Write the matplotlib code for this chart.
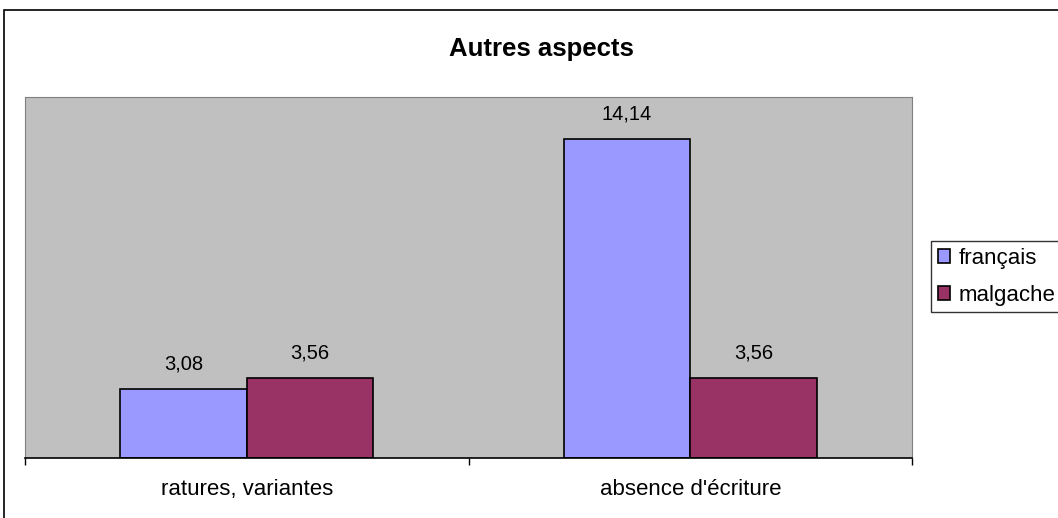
import matplotlib
matplotlib.use("Agg")
import matplotlib.pyplot as plt
import numpy as np
from matplotlib.patches import Rectangle

plt.rcParams['font.family'] = ['Liberation Sans', 'DejaVu Sans']

# data
categories = ["ratures, variantes", "absence d'écriture"]
francais = [3.08, 14.14]
malgache = [3.56, 3.56]
series_names = ["français", "malgache"]
value_labels_fr = ["3,08", "14,14"]
value_labels_mg = ["3,56", "3,56"]

W, H = 1058, 518
fig = plt.figure(figsize=(W / 100, H / 100), dpi=100)

# outer chart border
fig.patches.append(Rectangle((4 / W, -0.1), 1.2, 1 - 10 / H + 0.1,
                             transform=fig.transFigure, fill=False,
                             edgecolor='black', linewidth=1.2))

ax = fig.add_axes([25 / W, 1 - 458 / H, (912 - 25) / W, (458 - 97) / H])
ax.set_facecolor('#C0C0C0')

x = np.arange(len(categories))
w = 1 / 3.5
b1 = ax.bar(x - w / 2, francais, w, color='#9999FF', edgecolor='black', linewidth=1.2, label=series_names[0])
b2 = ax.bar(x + w / 2, malgache, w, color='#993366', edgecolor='black', linewidth=1.2, label=series_names[1])

for rect, lab in zip(b1, value_labels_fr):
    ax.annotate(lab, (rect.get_x() + rect.get_width() / 2, rect.get_height()),
                xytext=(0, 11), textcoords='offset points', ha='center', va='bottom', fontsize=14.5)
for rect, lab in zip(b2, value_labels_mg):
    ax.annotate(lab, (rect.get_x() + rect.get_width() / 2, rect.get_height()),
                xytext=(0, 11), textcoords='offset points', ha='center', va='bottom', fontsize=14.5)

ax.set_xlim(-0.5, len(categories) - 0.5)
ax.set_ylim(0, 16)
ax.set_yticks([])
ax.set_xticks(x)
ax.set_xticklabels(categories, fontsize=16)
ax.tick_params(axis='x', which='major', length=0, pad=15)
ax.set_xticks(np.arange(len(categories) + 1) - 0.5, minor=True)
ax.tick_params(axis='x', which='minor', length=5, width=1, color='black')

for side in ['top', 'left', 'right']:
    ax.spines[side].set_color('#808080')
ax.spines['bottom'].set_color('black')
ax.spines['bottom'].set_linewidth(1.2)

fig.text(541 / W, 1 - 56 / H, "Autres aspects", ha='center', va='baseline',
         fontsize=18.5, fontweight='bold')

leg = fig.legend(handles=[b1, b2], loc='upper left', bbox_to_anchor=(931 / W, 1 - 241 / H),
                 fontsize=16, frameon=True, fancybox=False, edgecolor='black',
                 handlelength=0.55, handleheight=0.55, handletextpad=0.4,
                 borderpad=0.3, labelspacing=0.72, borderaxespad=0)
leg.get_frame().set_linewidth(1.0)

fig.savefig("out.png", dpi=100)
